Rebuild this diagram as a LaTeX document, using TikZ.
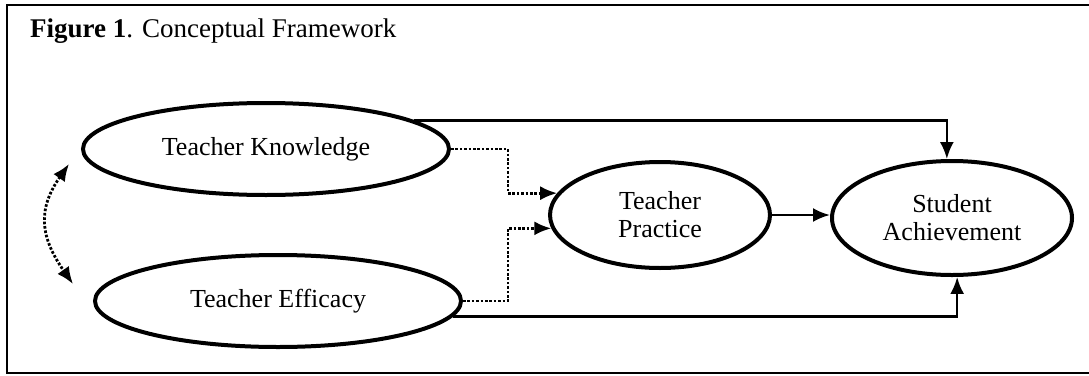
\documentclass[tikz,border=0pt]{standalone}
\usepackage{fontspec}
\setmainfont{Liberation Serif}
\usetikzlibrary{arrows.meta,shapes.geometric}
\begin{document}
\begin{tikzpicture}[x=1pt,y=-1pt,
  concept/.style={ellipse,draw,line width=4pt,inner sep=0pt,align=center,
    font=\fontsize{26}{28}\selectfont},
  tip/.style={-{Latex[length=17pt,width=14pt]}},
  link/.style={line width=2.6pt,tip},
  dotlink/.style={line width=2.8pt,dash pattern=on 2.6pt off 1.8pt,tip},
  frameline/.style={line width=2.6pt}]
\useasboundingbox (0,0) rectangle (1089,375);
% outer frame
\draw[frameline] (1095,5) -- (7,5) -- (7,373) -- (1095,373);
% caption
\node[anchor=base west,inner sep=0pt,font=\fontsize{27}{29}\selectfont] (title) at (30,37)
  {\textbf{Figure 1}. Conceptual Framework};
% constructs
\node[concept,minimum width=366pt,minimum height=92pt] (TK) at (266,149) {Teacher Knowledge};
\node[concept,minimum width=366pt,minimum height=92pt] (TE) at (278,301) {Teacher Efficacy};
\node[concept,minimum width=220pt,minimum height=106pt] (TP) at (660,215) {Teacher\\Practice};
\node[concept,minimum width=240pt,minimum height=114pt] (SA) at (952,218) {Student\\Achievement};
% direct paths to achievement
\draw[link] (TK.11) -| (SA.95);
\draw[link] (TE.-5) -| (SA.-85);
% mediated paths through practice
\draw[dotlink] (TK.east) -- ++(57,0) |- (TP.168);
\draw[dotlink] (TE.east) -- ++(45,0) |- (TP.187);
\draw[link] (TP.east) -- (TP.east -| SA.west);
% correlation between knowledge and efficacy
\coordinate (kc) at (69,164);
\coordinate (ec) at (73,284);
\draw[line width=2.8pt,dash pattern=on 2.6pt off 1.8pt,
  {Latex[length=17pt,width=14pt]}-{Latex[length=17pt,width=14pt]}]
  (kc) to[out=235,in=125,looseness=1.2] (ec);
\end{tikzpicture}
\end{document}
